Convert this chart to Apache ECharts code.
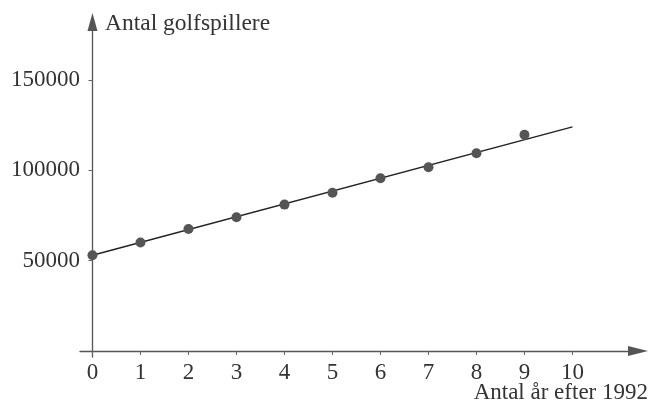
<!DOCTYPE html>
<html>
<head>
<meta charset="utf-8">
<script src="https://cdn.jsdelivr.net/npm/echarts@6/dist/echarts.min.js"></script>
<style>html,body{margin:0;padding:0;background:#fff}#c{width:654px;height:404px}</style>
</head>
<body>
<div id="c"></div>
<script>
const years = [0, 1, 2, 3, 4, 5, 6, 7, 8, 9];
const players = [53000, 60000, 67500, 74000, 81000, 87600, 95600, 101700, 109400, 119600];
const trendX = [0, 10];
const trendY = [53000, 124000];
const xTicks = [0, 1, 2, 3, 4, 5, 6, 7, 8, 9, 10];
const yTicks = [50000, 100000, 150000];
const yName = 'Antal golfspillere';
const xName = 'Antal år efter 1992';

const font = '"Liberation Serif", "DejaVu Serif", serif';
const chart = echarts.init(document.getElementById('c'));
chart.setOption({
  animation: false,
  backgroundColor: '#fff',
  grid: { left: 80, right: 16, top: 22, bottom: 47 },
  xAxis: {
    type: 'value', min: -0.26, max: 11.365,
    splitLine: { show: false },
    axisLine: { onZero: true, lineStyle: { color: '#555', width: 1.3 }, symbol: ['none', 'triangle'], symbolSize: [10, 20] },
    axisTick: { show: true, length: 4, customValues: xTicks, lineStyle: { color: '#666' } },
    axisLabel: { customValues: xTicks, margin: 4, fontFamily: font, fontSize: 23, color: '#333', formatter: v => String(v) }
  },
  yAxis: {
    type: 'value', min: -3300, max: 182000,
    splitLine: { show: false },
    axisLine: { onZero: true, lineStyle: { color: '#555', width: 1.3 }, symbol: ['none', 'triangle'], symbolSize: [10, 18] },
    axisTick: { show: true, length: 4, customValues: yTicks, lineStyle: { color: '#666' } },
    axisLabel: { customValues: yTicks, margin: 0, fontFamily: font, fontSize: 23, color: '#333', formatter: v => String(v) }
  },
  graphic: [
    { type: 'text', x: 105, y: 24, style: { text: yName, font: '23.5px ' + font, fill: '#333', textAlign: 'left', textVerticalAlign: 'middle' } },
    { type: 'text', x: 648, y: 393, style: { text: xName, font: '23px ' + font, fill: '#333', textAlign: 'right', textVerticalAlign: 'middle' } }
  ],
  series: [
    {
      type: 'line', data: trendX.map((x, i) => [x, trendY[i]]),
      symbol: 'none', lineStyle: { color: '#222', width: 1.5 }, z: 2
    },
    {
      type: 'scatter', data: years.map((x, i) => [x, players[i]]),
      symbolSize: 10, itemStyle: { color: '#555', opacity: 1 }, z: 3
    }
  ]
});
</script>
</body>
</html>
